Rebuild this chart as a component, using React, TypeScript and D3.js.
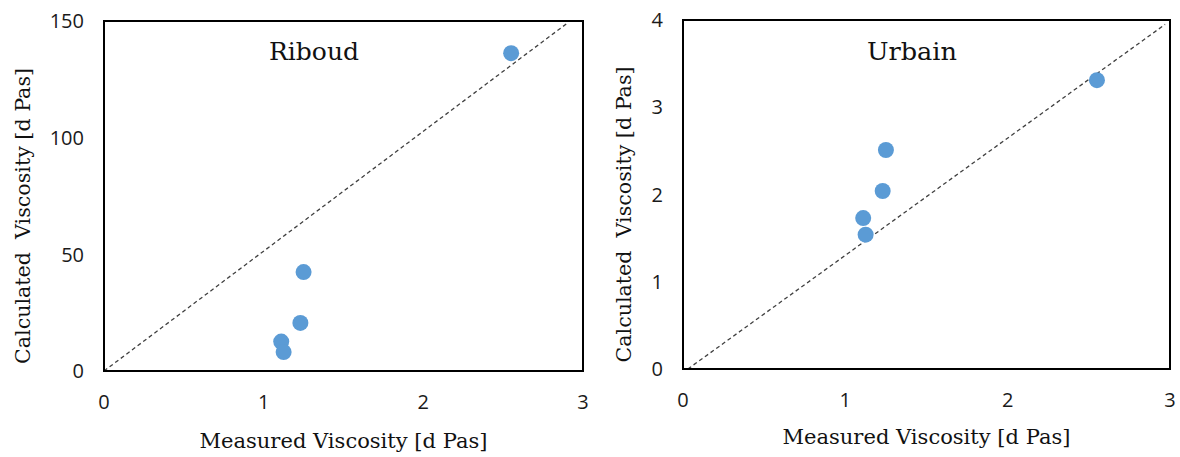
import React from "react";
import * as d3 from "d3";

// Measured viscosity (shared x values)
const measured: number[] = [1.11, 1.125, 1.23, 1.25, 2.55];
const riboudCalc: number[] = [12.6, 8.1, 20.6, 42.4, 136.2];
const urbainCalc: number[] = [1.73, 1.54, 2.04, 2.51, 3.31];

const riboudTicksY: number[] = [0, 50, 100, 150];
const urbainTicksY: number[] = [0, 1, 2, 3, 4];
const ticksX: number[] = [0, 1, 2, 3];

// reference (dashed) lines: endpoints [x, y]
const riboudRef: [number, number][] = [[0, 0], [2.91, 149.5]];
const urbainRef: [number, number][] = [[0.03, 0], [2.97, 3.95]];

const xTitle = "Measured Viscosity [d Pas]";
const yTitle = "Calculated  Viscosity [d Pas]";

type PanelProps = {
  left: number; right: number; top: number; bottom: number;
  yMax: number; yTicks: number[]; ys: number[]; ref: [number, number][];
  title: string; titleX: number; yTitleX: number; xTitleY: number;
};

const Panel = (p: PanelProps) => {
  const x = d3.scaleLinear().domain([0, 3]).range([p.left, p.right]);
  const y = d3.scaleLinear().domain([0, p.yMax]).range([p.bottom, p.top]);
  const line = d3.line<[number, number]>().x(d => x(d[0])).y(d => y(d[1]));
  const cx = (p.left + p.right) / 2;
  const cy = (p.top + p.bottom) / 2;
  return (
    <g>
      <path d={line(p.ref) || ""} fill="none" stroke="#404040" strokeWidth={1.3} strokeDasharray="4,3" />
      {measured.map((m, i) => (
        <circle key={i} cx={x(m)} cy={y(p.ys[i])} r={8} fill="#5b9bd5" />
      ))}
      <rect x={p.left} y={p.top} width={p.right - p.left} height={p.bottom - p.top}
        fill="none" stroke="#000" strokeWidth={2} />
      {p.yTicks.map(t => (
        <text key={t} x={p.left - 20} y={y(t)} dy="0.36em" textAnchor="end"
          fontFamily="'Open Sans', sans-serif" fontSize={20} fill="#1a1a1a">{t}</text>
      ))}
      {ticksX.map(t => (
        <text key={t} x={x(t)} y={p.bottom + 38} textAnchor="middle"
          fontFamily="'Open Sans', sans-serif" fontSize={20} fill="#1a1a1a">{t}</text>
      ))}
      <text x={p.titleX} y={60} textAnchor="middle" fontFamily="'DejaVu Serif', serif"
        fontSize={25} fill="#111" textLength={90} lengthAdjust="spacingAndGlyphs">{p.title}</text>
      <text x={cx} y={p.xTitleY} textAnchor="middle" fontFamily="'DejaVu Serif', serif"
        fontSize={20} fill="#111" textLength={288} lengthAdjust="spacingAndGlyphs">{xTitle}</text>
      <text transform={`translate(${p.yTitleX},${cy + 20}) rotate(-90)`} textAnchor="middle"
        fontFamily="'DejaVu Serif', serif" fontSize={20} fill="#111"
        textLength={296} lengthAdjust="spacingAndGlyphs" style={{ whiteSpace: "pre" }}>{yTitle}</text>
    </g>
  );
};

export default function App() {
  return (
    <svg width={1180} height={457} style={{ position: "absolute", left: 0, top: 0, background: "#fff" }}>
      <Panel left={104} right={583} top={21} bottom={371} yMax={150} yTicks={riboudTicksY}
        ys={riboudCalc} ref={riboudRef} title="Riboud" titleX={314} yTitleX={30} xTitleY={448} />
      <Panel left={683} right={1170} top={20} bottom={369} yMax={4} yTicks={urbainTicksY}
        ys={urbainCalc} ref={urbainRef} title="Urbain" titleX={912} yTitleX={631} xTitleY={444} />
    </svg>
  );
}
